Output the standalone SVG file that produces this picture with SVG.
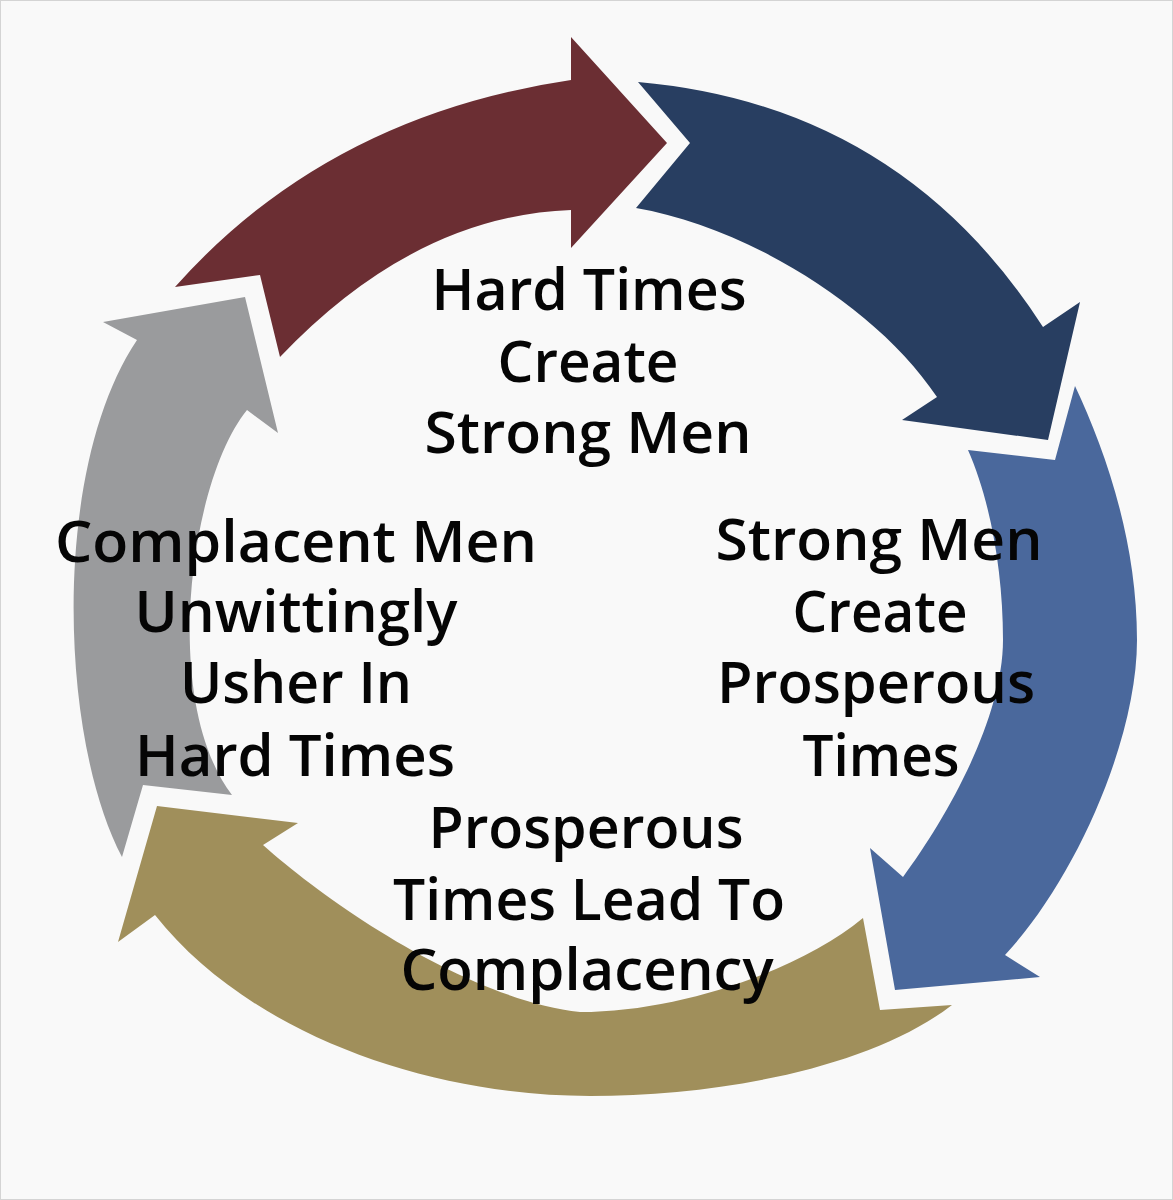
<svg xmlns="http://www.w3.org/2000/svg" width="1173" height="1200" viewBox="0 0 1173 1200">
  <style>
    .lbl { font-family: "Open Sans", "Noto Sans", "Liberation Sans", sans-serif; font-size: 58px; font-weight: 600; fill: #050505; text-anchor: middle; }
    .maroon { fill: #6b2e33; }
    .navy { fill: #283e61; }
    .blue { fill: #4a689c; }
    .olive { fill: #a08f5b; }
    .grey { fill: #9a9b9d; }
  </style>
  <rect x="0.5" y="0.5" width="1172" height="1199" fill="#f9f9f9" stroke="#d4d4d4" stroke-width="1"/>

  <g id="connectors">
    <path id="arrow-maroon" class="maroon" d="M175,287 Q327,116 571,80 L571,37 L667,143 L571,248 L571,210 Q414,216 280,357 L260,275 Z"/>
    <path id="arrow-navy" class="navy" d="M638,82 Q900,105 1043,327 L1080,302 L1048,440 L902,420 L937,397 C877,307 747,227 636,208 L690,143 Z"/>
    <path id="arrow-blue" class="blue" d="M1075,386 C1105,450 1137,540 1137,640 C1137,740 1075,880 1005,955 L1040,977 L895,990 L870,848 L903,877 C945,820 1003,720 1003,640 C1003,570 990,500 968,450 L1055,460 Z"/>
    <path id="arrow-olive" class="olive" d="M952,1005 C870,1068 720,1096 590,1096 C430,1096 250,1035 155,915 L118,942 L157,806 L298,823 L263,845 C330,905 470,1000 580,1012 C680,1012 800,970 863,918 L880,1010 Z"/>
    <path id="arrow-grey" class="grey" d="M122,857 C60,740 50,470 137,340 L103,322 L245,297 L278,433 L247,410 C190,480 160,700 232,795 L143,785 Z"/>
  </g>

  <g id="node-hard-times">
    <text class="lbl" x="589" y="310" textLength="315" lengthAdjust="spacingAndGlyphs">Hard Times</text>
    <text class="lbl" x="588" y="382" textLength="181" lengthAdjust="spacingAndGlyphs">Create</text>
    <text class="lbl" x="588" y="453" textLength="327" lengthAdjust="spacingAndGlyphs">Strong Men</text>
  </g>

  <g id="node-strong-men">
    <text class="lbl" x="879" y="560" textLength="327" lengthAdjust="spacingAndGlyphs">Strong Men</text>
    <text class="lbl" x="880" y="632" textLength="175" lengthAdjust="spacingAndGlyphs">Create</text>
    <text class="lbl" x="876" y="703" textLength="318" lengthAdjust="spacingAndGlyphs">Prosperous</text>
    <text class="lbl" x="881" y="776" textLength="157" lengthAdjust="spacingAndGlyphs">Times</text>
  </g>

  <g id="node-prosperous-times">
    <text class="lbl" x="586" y="848" textLength="315" lengthAdjust="spacingAndGlyphs">Prosperous</text>
    <text class="lbl" x="589" y="920" textLength="392" lengthAdjust="spacingAndGlyphs">Times Lead To</text>
    <text class="lbl" x="587" y="990" textLength="373" lengthAdjust="spacingAndGlyphs">Complacency</text>
  </g>

  <g id="node-complacent-men">
    <text class="lbl" x="296" y="562" textLength="482" lengthAdjust="spacingAndGlyphs">Complacent Men</text>
    <text class="lbl" x="296" y="632" textLength="323" lengthAdjust="spacingAndGlyphs">Unwittingly</text>
    <text class="lbl" x="296" y="703" textLength="232" lengthAdjust="spacingAndGlyphs">Usher In</text>
    <text class="lbl" x="295" y="776" textLength="320" lengthAdjust="spacingAndGlyphs">Hard Times</text>
  </g>
</svg>
